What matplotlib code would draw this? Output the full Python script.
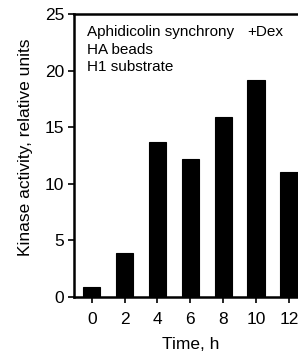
import matplotlib
matplotlib.use("Agg")
import matplotlib.pyplot as plt

plt.rcParams['font.family'] = ['Liberation Sans', 'DejaVu Sans']

times = [0, 2, 4, 6, 8, 10, 12]
activity = [0.85, 3.9, 13.7, 12.2, 15.9, 19.15, 11.05]
yticks = [0, 5, 10, 15, 20, 25]
annot_lines = ["Aphidicolin synchrony", "HA beads", "H1 substrate"]

fig = plt.figure(figsize=(2.98, 3.58), dpi=100)
W, H = 298, 358
left_px, right_px = 74, 307
top_px, bottom_px = 14, 296.7
ax = fig.add_axes([left_px / W, (H - bottom_px) / H, (right_px - left_px) / W, (bottom_px - top_px) / H])

ax.bar(times, activity, width=1.05, color='black', edgecolor='black', linewidth=0.8)
ax.set_xlim(-1.08, 13.1)
ax.set_ylim(0, 25)
ax.set_xticks(times)
ax.set_yticks(yticks)
ax.tick_params(axis='both', direction='out', length=4, width=1.2, labelsize=12.5)
ax.tick_params(axis='x', pad=7)
ax.tick_params(axis='y', pad=3)
for s in ['left', 'bottom', 'top', 'right']:
    ax.spines[s].set_linewidth(1.8)

ax.set_xlabel("Time, h", fontsize=12.5, labelpad=7)
ax.set_ylabel("Kinase activity, relative units", fontsize=12.5)
ax.yaxis.set_label_coords(-0.176, 0.53)

x0 = (87 - left_px) / (right_px - left_px)
ax.text(x0, 0.96, annot_lines[0], transform=ax.transAxes, fontsize=11, va='top', ha='left')
ax.text((247 - left_px) / (right_px - left_px), 0.96, "+Dex", transform=ax.transAxes, fontsize=11, va='top', ha='left')
ax.text(x0, 0.898, annot_lines[1], transform=ax.transAxes, fontsize=11, va='top', ha='left')
ax.text(x0, 0.836, annot_lines[2], transform=ax.transAxes, fontsize=11, va='top', ha='left')

fig.savefig("out.png", dpi=100)
